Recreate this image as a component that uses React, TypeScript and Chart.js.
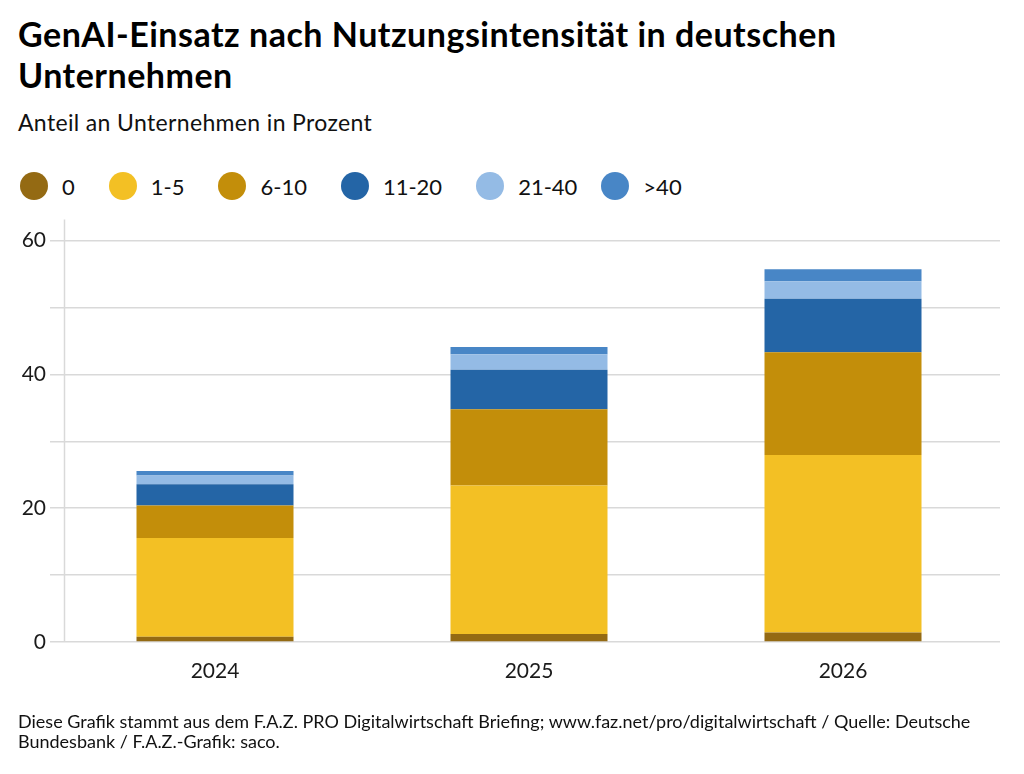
import React, { useEffect, useRef } from "react";
import { Chart, registerables } from "chart.js";

Chart.register(...registerables);

const FONT = "Lato, 'Noto Sans', sans-serif";

const categories = ["2024", "2025", "2026"];
const seriesNames = ["0", "1-5", "6-10", "11-20", "21-40", ">40"];
const seriesColors = ["#946a13", "#f3c024", "#c38e0a", "#2465a6", "#94bbe5", "#4886c6"];
const values0 = [0.8, 1.2, 1.45];
const values1to5 = [14.75, 22.2, 26.5];
const values6to10 = [4.85, 11.4, 15.35];
const values11to20 = [3.2, 5.9, 8.0];
const values21to40 = [1.3, 2.3, 2.6];
const valuesOver40 = [0.65, 1.1, 1.8];
const seriesValues = [values0, values1to5, values6to10, values11to20, values21to40, valuesOver40];
const yTickLabels = [0, 20, 40, 60];

const title = "GenAI-Einsatz nach Nutzungsintensität in deutschen Unternehmen";
const subtitle = "Anteil an Unternehmen in Prozent";
const footer =
  "Diese Grafik stammt aus dem F.A.Z. PRO Digitalwirtschaft Briefing; www.faz.net/pro/digitalwirtschaft / Quelle: Deutsche Bundesbank / F.A.Z.-Grafik: saco.";

const axisLinePlugin = {
  id: "axisLine",
  beforeDatasetsDraw(chart: any) {
    const { ctx, chartArea } = chart;
    ctx.save();
    ctx.strokeStyle = "#d9d9d9";
    ctx.lineWidth = 1.5;
    ctx.beginPath();
    const x = chartArea.left + 6.5;
    ctx.moveTo(x, chartArea.top - 21);
    ctx.lineTo(x, chartArea.bottom);
    ctx.stroke();
    ctx.restore();
  },
};

export default function App() {
  const ref = useRef<HTMLCanvasElement>(null);

  useEffect(() => {
    if (!ref.current) return;
    const chart = new Chart(ref.current, {
      type: "bar",
      data: {
        labels: categories,
        datasets: seriesNames.map((name, i) => ({
          label: name,
          data: seriesValues[i],
          backgroundColor: seriesColors[i],
          borderWidth: 0,
          categoryPercentage: 1,
          barPercentage: 0.5,
        })),
      },
      options: {
        animation: false,
        responsive: false,
        devicePixelRatio: 1,
        layout: { padding: { top: 40.5, right: 24, bottom: 18.7, left: 0 } },
        plugins: { legend: { display: false }, tooltip: { enabled: false } },
        scales: {
          x: {
            stacked: true,
            grid: { display: false, drawTicks: false },
            border: { display: false },
            ticks: { color: "#1a1a1a", font: { family: FONT, size: 21 }, padding: 17 },
          },
          y: {
            stacked: true,
            min: 0,
            max: 60,
            grid: { color: "#d9d9d9", lineWidth: 1.5, tickLength: 8, drawTicks: true },
            border: { display: false },
            afterFit: (s: any) => {
              s.width = 58;
            },
            ticks: {
              stepSize: 10,
              padding: 4,
              color: "#1a1a1a",
              font: { family: FONT, size: 21 },
              callback: (v: any) => (yTickLabels.includes(Number(v)) ? String(v) : ""),
            },
          },
        },
      },
      plugins: [axisLinePlugin],
    });
    return () => chart.destroy();
  }, []);

  return (
    <div style={{ position: "absolute", left: 0, top: 0, width: 1024, height: 774, background: "#fff", fontFamily: FONT, color: "#000" }}>
      <div style={{ position: "absolute", left: 18, top: 12.5, width: 900, fontSize: 34, lineHeight: "41.5px", fontWeight: 700, letterSpacing: "0.5px" }}>
        {title}
      </div>
      <div style={{ position: "absolute", left: 18, top: 109, fontSize: 23, lineHeight: 1.2, color: "#111", letterSpacing: "0.35px" }}>{subtitle}</div>
      <div style={{ position: "absolute", left: 20, top: 172, height: 28, display: "flex", alignItems: "center", fontSize: 22, color: "#111" }}>
        {seriesNames.map((n, i) => (
          <div key={n} style={{ display: "flex", alignItems: "center", marginRight: i === 4 ? 24 : 34 }}>
            <span style={{ width: 28, height: 28, borderRadius: 14, background: seriesColors[i], display: "inline-block", marginRight: 14 }} />
            <span>{n}</span>
          </div>
        ))}
      </div>
      <canvas ref={ref} width={1024} height={520} style={{ position: "absolute", left: 0, top: 200, width: 1024, height: 520 }} />
      <div style={{ position: "absolute", left: 18, top: 711, width: 1000, fontSize: 18, lineHeight: "20px", color: "#111" }}>{footer}</div>
    </div>
  );
}
